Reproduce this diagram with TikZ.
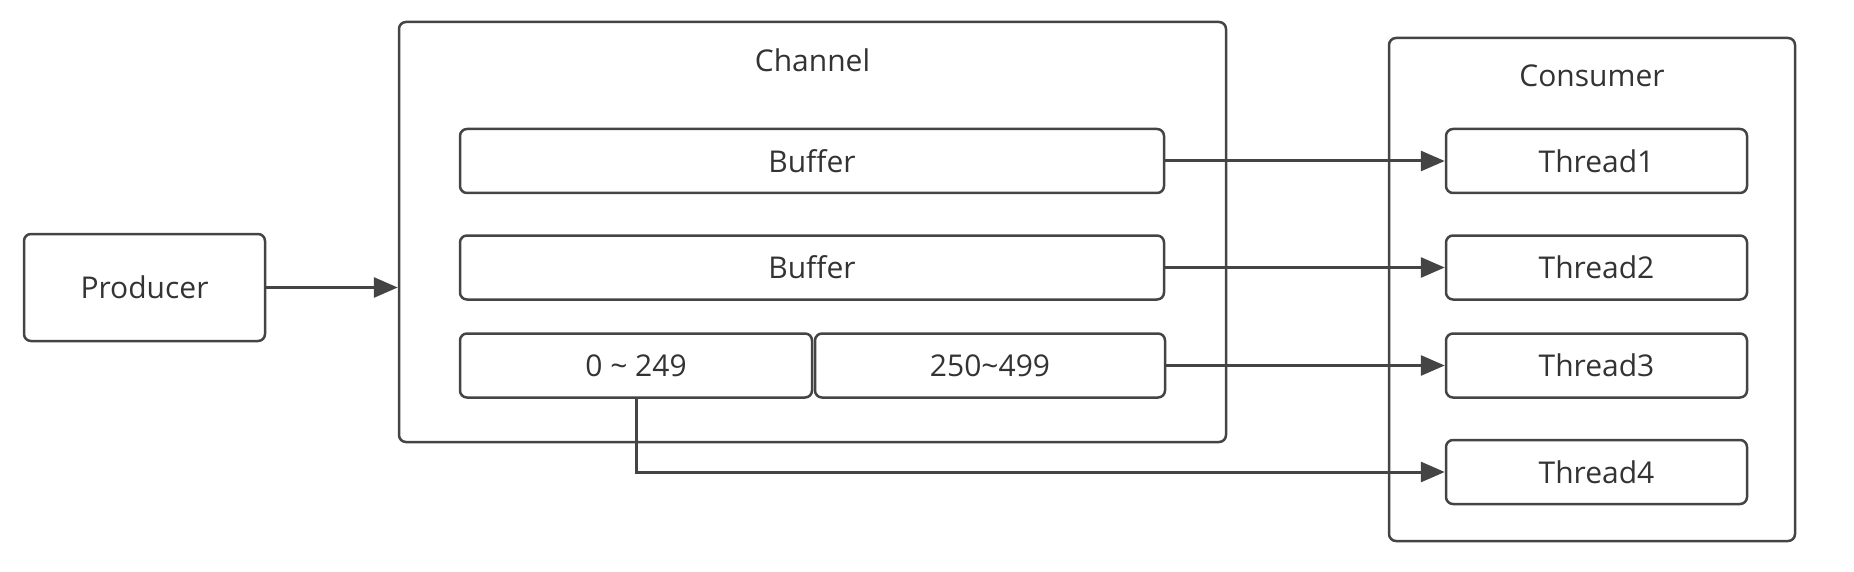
\documentclass[tikz,border=0pt]{standalone}
\usepackage{fontspec}
\setmainfont{Open Sans}
\usetikzlibrary{arrows.meta}
\definecolor{edge}{HTML}{444444}
\definecolor{ink}{HTML}{333333}

\begin{document}
\begin{tikzpicture}[x=1pt, y=-1pt,
    box/.style={draw=edge, line width=2.5pt, rounded corners=7pt, inner sep=0pt,
        minimum height=64pt, text=ink, font=\fontsize{30}{36}\selectfont},
    link/.style={draw=edge, line width=3pt, -{Triangle[length=24pt, width=20pt]}}]
    \useasboundingbox (0,0) rectangle (1854,572);
    % frames
    \node[box, minimum width=827pt, minimum height=420pt] (channel) at (812.5,232) {};
    \node[box, minimum width=406pt, minimum height=503pt] (consumer) at (1592,289.5) {};
    \node[text=ink, font=\fontsize{30}{36}\selectfont] (chantitle) at (812.5,60) {Channel};
    \node[text=ink, font=\fontsize{30}{36}\selectfont] (constitle) at (1592,76) {Consumer};
    \node[box, minimum width=241pt, minimum height=107pt] (producer) at (144.5,287.5) {Producer};
    % channel parts
    \node[box, minimum width=704pt] (buf1) at (812,161) {Buffer};
    \node[box, minimum width=704pt] (buf2) at (812,267.5) {Buffer};
    \node[box, minimum width=352pt] (lower) at (636,365.5) {0 \char`\~{} 249};
    \node[box, minimum width=350pt] (upper) at (990,365.5) {250\char`\~499};
    % threads
    \node[box, minimum width=301pt] (thread1) at (1596.5,161) {Thread1};
    \node[box, minimum width=301pt] (thread2) at (1596.5,267.5) {Thread2};
    \node[box, minimum width=301pt] (thread3) at (1596.5,365.5) {Thread3};
    \node[box, minimum width=301pt] (thread4) at (1596.5,472) {Thread4};
    % arrows
    \draw[link] (producer.east) -- (producer.east -| channel.west);
    \draw[link] (buf1.east) -- (thread1.west);
    \draw[link] (buf2.east) -- (thread2.west);
    \draw[link] (upper.east) -- (thread3.west);
    \draw[link] (lower.south) |- (thread4.west);
\end{tikzpicture}
\end{document}
